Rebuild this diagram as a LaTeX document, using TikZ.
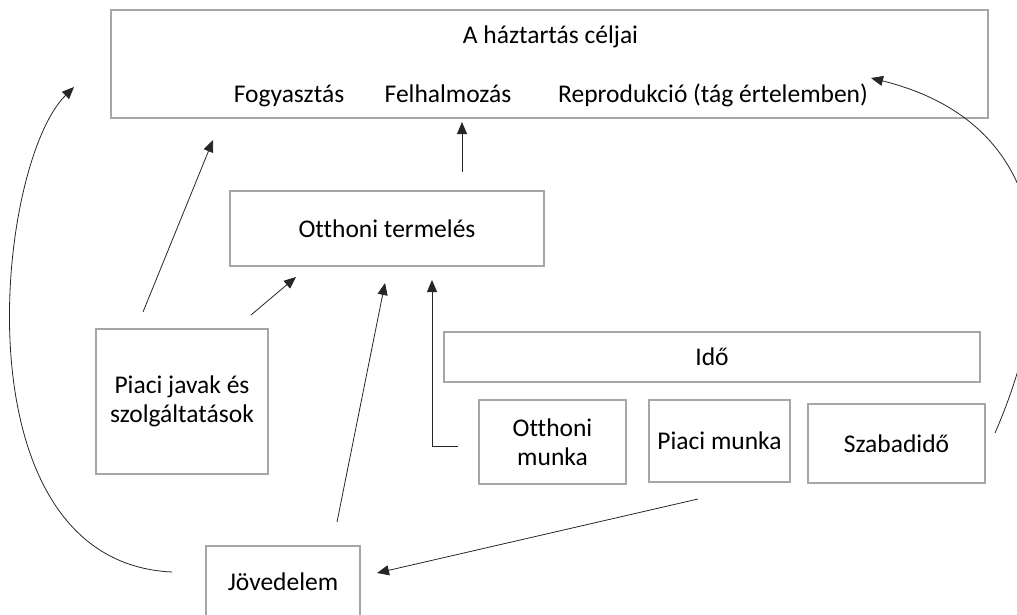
\documentclass[tikz,border=0pt]{standalone}
\usepackage{fontspec}
\setmainfont{Carlito}[Ligatures=NoCommon]
\usetikzlibrary{arrows.meta}

\begin{document}
\begin{tikzpicture}[x=1pt,y=-1pt,
    box/.style={draw=black!35,line width=1.6pt,inner sep=0pt,align=center,
      font=\fontsize{25.5}{29}\selectfont},
    label/.style={anchor=base,inner sep=0pt,font=\fontsize{25.5}{29}\selectfont},
    arr/.style={draw=black!85,line width=0.8pt,-{Triangle[length=12pt,width=10pt]}}]

      \useasboundingbox (0,0) rectangle (1017,614);

      \begin{scope}[every node/.style={box}]
        \node[minimum width=877,minimum height=108] (1) at (549.5,64)  {};
        \node[minimum width=314,minimum height=75]  (2) at (387,228.5) {Otthoni termelés};
        \node[minimum width=172,minimum height=145] (3) at (182,401.5) {Piaci javak és\\szolgáltatások};
        \node[minimum width=154,minimum height=72]  (4) at (283,582)   {Jövedelem};
        \node[minimum width=536,minimum height=50]  (5) at (712,357)   {Idő};
        \node[minimum width=147,minimum height=84]  (6) at (552.5,442) {Otthoni\\munka};
        \node[minimum width=141,minimum height=82]  (7) at (719.5,441) {Piaci munka};
        \node[minimum width=177,minimum height=79]  (8) at (896.5,443.5) {Szabadidő};
      \end{scope}

      \begin{scope}[every node/.style={label}]
        \node (t1) at (550.5,43) {A háztartás céljai};
        \node (t2) at (289,102)  {Fogyasztás};
        \node (t3) at (448,102)  {Felhalmozás};
        \node (t4) at (713,102)  {Reprodukció (tág értelemben)};
      \end{scope}

      % free ends of the arrows
      \coordinate (a1) at (172,572); \coordinate (a2) at (74,87);
      \coordinate (b1) at (143,312); \coordinate (b2) at (213,140);
      \coordinate (c1) at (251,315); \coordinate (c2) at (296,277);
      \coordinate (d1) at (337,522); \coordinate (d2) at (385,283);
      \coordinate (e1) at (458,446); \coordinate (e2) at (432,280);
      \coordinate (f1) at (462,172); \coordinate (f2) at (462,122);
      \coordinate (g1) at (698,499); \coordinate (g2) at (377,573);
      \coordinate (h1) at (995,433); \coordinate (h2) at (871,78);

      \begin{scope}[every path/.style={arr}]
        \path (a1) .. controls (-45,562) and (-5,165) .. (a2);
        \path (b1) -- (b2);
        \path (c1) -- (c2);
        \path (d1) -- (d2);
        \path (e1) -| (e2);
        \path (f1) -- (f2);
        \path (g1) -- (g2);
        \path (h1) .. controls (1070,260) and (1040,120) .. (h2);
      \end{scope}

    \end{tikzpicture}
\end{document}
